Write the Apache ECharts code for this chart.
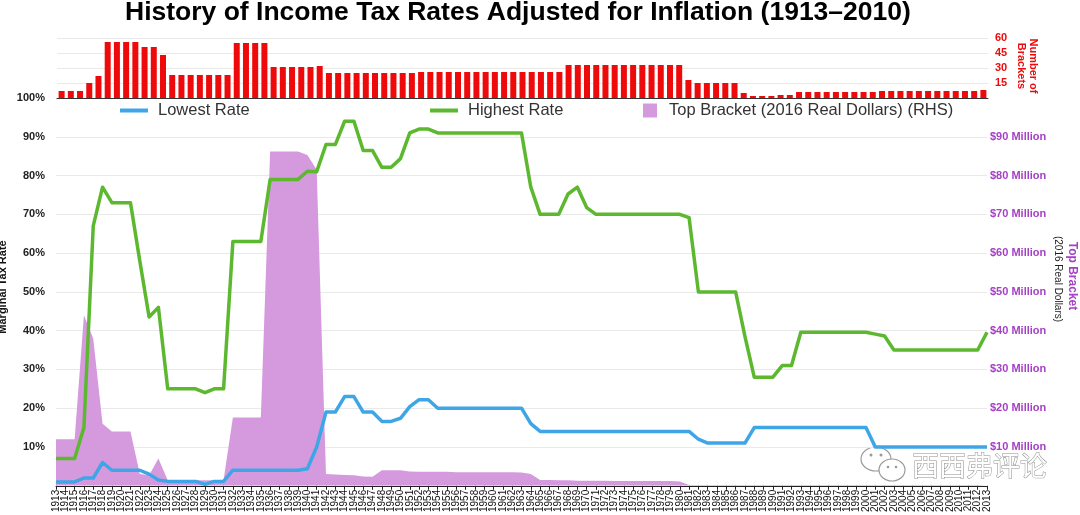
<!DOCTYPE html>
<html>
<head>
<meta charset="utf-8">
<script src="https://cdn.jsdelivr.net/npm/echarts@6/dist/echarts.min.js"></script>
<style>
  html, body { margin: 0; padding: 0; background: #fff; }
  #main { width: 1080px; height: 515px; }
</style>
</head>
<body>
<div id="main"></div>
<script>
// categories
var years = ['1913','1914','1915','1916','1917','1918','1919','1920','1921','1922','1923','1924','1925','1926','1927','1928','1929','1930','1931','1932','1933','1934','1935','1936','1937','1938','1939','1940','1941','1942','1943','1944','1945','1946','1947','1948','1949','1950','1951','1952','1953','1954','1955','1956','1957','1958','1959','1960','1961','1962','1963','1964','1965','1966','1967','1968','1969','1970','1971','1972','1973','1974','1975','1976','1977','1978','1979','1980','1981','1982','1983','1984','1985','1986','1987','1988','1989','1990','1991','1992','1993','1994','1995','1996','1997','1998','1999','2000','2001','2002','2003','2004','2005','2006','2007','2008','2009','2010','2011','2012','2013'];

// number of brackets (top panel)
var brackets = [7,7,7,15,22,56,56,56,56,51,51,43,23,23,23,23,23,23,23,55,55,55,55,31,31,31,31,31,32,
  25,25,25,25,25,25,25,25,25,25,
  26,26,26,26,26,26,26,26,26,26,26,26,26,26,26,26,
  33,33,33,33,33,33,33,33,33,33,33,33,33,
  18,15,15,15,15,15,5,2,2,2,3,3,
  6,6,6,6,6,6,6,6,6,
  7,7,7,7,7,7,7,7,7,7,7,8];

// lowest marginal rate (%)
var lowestRate = [1,1,1,2,2,6,4,4,4,4,3,1.5,1.125,1.125,1.125,1.125,0.375,1.125,1.125,4,4,4,4,4,4,4,4,4.4,10,19,19,23,23,19,19,16.6,16.6,17.4,20.4,22.2,22.2,
  20,20,20,20,20,20,20,20,20,20,16,
  14,14,14,14,14,14,14,14,14,14,14,14,14,14,14,14,14,
  12,11,11,11,11,11,
  15,15,15,15,15,15,15,15,15,15,15,15,15,
  10,10,10,10,10,10,10,10,10,10,10,10,10];

// highest marginal rate (%)
var highestRate = [7,7,7,15,67,77,73,73,73,58,43.5,46,25,25,25,25,24,25,25,63,63,63,63,79,79,79,79,81.1,81,88,88,94,94,86.45,86.45,82.13,82.13,84.36,91,92,92,
  91,91,91,91,91,91,91,91,91,91,77,70,70,70,75.25,77,71.75,
  70,70,70,70,70,70,70,70,70,70,69.13,
  50,50,50,50,50,38.5,28,28,28,31,31,
  39.6,39.6,39.6,39.6,39.6,39.6,39.6,39.6,39.1,38.6,
  35,35,35,35,35,35,35,35,35,35,39.6];

// top bracket threshold, 2016 dollars ($ million)
var topBracket = [12,12,12,44,38,16,14,14,14,3,2.7,7,1.4,1.4,1.4,1.4,1.4,1.4,1.5,17.6,17.6,17.6,17.6,86.2,86.2,86.2,86.2,85.3,81.5,
  3,2.9,2.8,2.7,2.4,2.3,4,4,4,3.7,3.6,3.6,3.6,3.6,3.5,3.5,3.5,3.5,3.5,3.5,3.5,3.4,3.0,
  1.5,1.5,1.4,1.4,1.3,1.3,1.3,1.3,1.2,1.2,1.2,1.2,1.2,1.2,1.2,1.1,
  0.2,0.2,0.2,0.2,0.2,0.2,0.2,0.2,0.2,0.2,0.2,0.2,0.2,0.2,0.2,0.2,0.2,0.2,0.2,0.2,0.2,0.2,0.2,0.2,0.2,0.2,0.2,0.2,0.2,0.2,0.2,0.2,0.2];

var rateTicks = [0, 100, 10];
var bracketTicks = [0, 60, 15];

var BLUE = '#3ea6e6', GREEN = '#5cb82f', PURPLE = '#d59ade', PURPLE_TXT = '#a640c6', RED = '#ee0a0a';
var FONT = '"Liberation Sans", Arial, sans-serif';

var chart = echarts.init(document.getElementById('main'));

var legendText = { fontSize: 16.5, color: '#333', padding: [0, 0, 0, 5] };

var option = {
  backgroundColor: '#fff',
  animation: false,
  textStyle: { fontFamily: FONT },
  title: {
    text: 'History of Income Tax Rates Adjusted for Inflation (1913\u20132010)',
    left: 120,
    top: -6,
    textStyle: { fontFamily: FONT, fontSize: 26.5, fontWeight: 'bold', color: '#000' }
  },
  legend: [
    {
      data: ['Lowest Rate'], left: 120, top: 102, padding: 0, icon: 'rect', itemWidth: 28, itemHeight: 4,
      textStyle: legendText
    },
    {
      data: ['Highest Rate'], left: 430, top: 102, padding: 0, icon: 'rect', itemWidth: 28, itemHeight: 4,
      textStyle: legendText
    },
    {
      data: ['Top Bracket (2016 Real Dollars) (RHS)'], left: 643, top: 102, padding: 0, icon: 'rect', itemWidth: 14, itemHeight: 14,
      textStyle: { fontSize: 16.5, color: '#333', padding: [0, 0, 0, 7] }
    }
  ],
  grid: [
    { left: 57, right: 92, top: 38, height: 60 },
    { left: 56, right: 93, top: 98, bottom: 28 }
  ],
  xAxis: [
    {
      gridIndex: 0, type: 'category', data: years, boundaryGap: true,
      axisLine: { lineStyle: { color: '#333', width: 1 } },
      axisTick: { show: false }, axisLabel: { show: false }
    },
    {
      gridIndex: 1, type: 'category', data: years, boundaryGap: false,
      axisLine: { lineStyle: { color: '#222', width: 1 } },
      axisTick: { show: true, length: 4, lineStyle: { color: '#222' } },
      axisLabel: { interval: 0, rotate: 90, fontSize: 10, color: '#111', margin: 4 }
    }
  ],
  yAxis: [
    {
      gridIndex: 0, type: 'value', position: 'right',
      min: bracketTicks[0], max: bracketTicks[1], interval: bracketTicks[2],
      axisLine: { show: false }, axisTick: { show: false },
      axisLabel: { showMinLabel: false, color: RED, fontWeight: 'bold', fontSize: 11, margin: 7 },
      splitLine: { lineStyle: { color: '#e9e9e9' } }
    },
    {
      gridIndex: 1, type: 'value', position: 'left',
      min: rateTicks[0], max: rateTicks[1], interval: rateTicks[2],
      axisLine: { show: false }, axisTick: { show: false },
      axisLabel: { showMinLabel: false, formatter: '{value}%', color: '#222', fontWeight: 'bold', fontSize: 11, margin: 11 },
      splitLine: { lineStyle: { color: '#e9e9e9' } }
    },
    {
      gridIndex: 1, type: 'value', position: 'right',
      min: rateTicks[0], max: rateTicks[1], interval: rateTicks[2],
      axisLine: { show: false }, axisTick: { show: false },
      axisLabel: { showMinLabel: false, showMaxLabel: false, formatter: '${value} Million', color: PURPLE_TXT, fontWeight: 'bold', fontSize: 11, margin: 3 },
      splitLine: { show: false }
    }
  ],
  series: [
    {
      name: 'Number of Brackets', type: 'bar', xAxisIndex: 0, yAxisIndex: 0,
      data: brackets, barWidth: 6, itemStyle: { color: RED }
    },
    {
      name: 'Top Bracket (2016 Real Dollars) (RHS)', type: 'line', xAxisIndex: 1, yAxisIndex: 2,
      data: topBracket, symbol: 'none', z: 1,
      lineStyle: { width: 0 }, itemStyle: { color: PURPLE },
      areaStyle: { color: PURPLE, opacity: 1 }
    },
    {
      name: 'Lowest Rate', type: 'line', xAxisIndex: 1, yAxisIndex: 1,
      data: lowestRate, symbol: 'none', z: 3,
      lineStyle: { width: 3.5, color: BLUE, join: 'round' }, itemStyle: { color: BLUE }
    },
    {
      name: 'Highest Rate', type: 'line', xAxisIndex: 1, yAxisIndex: 1,
      data: highestRate, symbol: 'none', z: 3,
      lineStyle: { width: 3.5, color: GREEN, join: 'round' }, itemStyle: { color: GREEN }
    }
  ],
  graphic: [
    {
      type: 'text', x: 3, y: 287, rotation: Math.PI / 2,
      style: { text: 'Marginal Tax Rate', fill: '#111', font: 'bold 11px ' + FONT, align: 'center', verticalAlign: 'middle' }
    },
    {
      type: 'text', x: 1027, y: 66, rotation: -Math.PI / 2,
      style: { text: 'Number of\nBrackets', fill: RED, font: 'bold 11px ' + FONT, align: 'center', verticalAlign: 'middle', lineHeight: 12 }
    },
    {
      type: 'text', x: 1072, y: 276, rotation: -Math.PI / 2,
      style: { text: 'Top Bracket', fill: PURPLE_TXT, font: 'bold 12px ' + FONT, align: 'center', verticalAlign: 'middle' }
    },
    {
      type: 'text', x: 1058, y: 279, rotation: -Math.PI / 2,
      style: { text: '(2016 Real Dollars)', fill: '#222', font: '10px ' + FONT, align: 'center', verticalAlign: 'middle' }
    },
    // watermark
    {
      type: 'group', z: 100,
      children: [
        { type: 'ellipse', shape: { cx: 876, cy: 459, rx: 15, ry: 12 }, style: { fill: '#fff', stroke: '#9a9a9a', lineWidth: 1.2 } },
        { type: 'ellipse', shape: { cx: 892, cy: 470, rx: 13, ry: 11 }, style: { fill: '#fff', stroke: '#9a9a9a', lineWidth: 1.2 } },
        { type: 'circle', shape: { cx: 871, cy: 455, r: 1.5 }, style: { fill: '#9a9a9a' } },
        { type: 'circle', shape: { cx: 881, cy: 455, r: 1.5 }, style: { fill: '#9a9a9a' } },
        { type: 'circle', shape: { cx: 888, cy: 467, r: 1.3 }, style: { fill: '#9a9a9a' } },
        { type: 'circle', shape: { cx: 896, cy: 467, r: 1.3 }, style: { fill: '#9a9a9a' } },
        {
          type: 'text', x: 912, y: 466,
          style: { text: '西西弗评论', fill: '#fff', stroke: '#8f8f8f', lineWidth: 1, font: '27px "Noto Sans CJK SC"', verticalAlign: 'middle' }
        }
      ]
    }
  ]
};

chart.setOption(option);
</script>
</body>
</html>
